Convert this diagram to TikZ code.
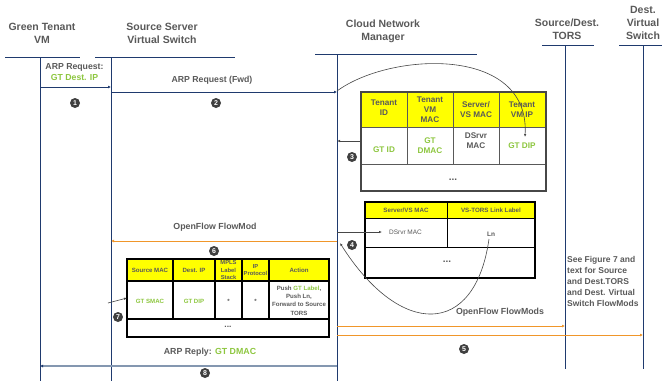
\documentclass[tikz,border=0pt]{standalone}
\usepackage{fontspec}
\setmainfont{Liberation Sans}
\usetikzlibrary{arrows.meta}
\definecolor{txt}{HTML}{595959}
\definecolor{gt}{HTML}{8DC63F}
\definecolor{life}{HTML}{1F3A6E}
\definecolor{flow}{HTML}{F0962A}
\definecolor{reply}{HTML}{8497B0}
\definecolor{numgray}{HTML}{404040}
\definecolor{hdr}{HTML}{FFFF00}
\begin{document}
\begin{tikzpicture}[x=1pt,y=-1pt,
  head/.style={align=center,text=txt,inner sep=0pt,font=\bfseries\fontsize{10.5}{13}\selectfont},
  lbl/.style={align=center,text=txt,inner sep=0pt,font=\bfseries\fontsize{8.7}{10}\selectfont},
  lifeline/.style={draw=life,line width=0.9pt},
  msg/.style={draw=life,line width=0.9pt,-{Latex[length=3pt,width=3pt]}},
  ofmsg/.style={draw=flow,line width=0.9pt,-{Latex[length=3pt,width=3pt]}},
  replymsg/.style={draw=reply,line width=1.4pt,-{Latex[length=3pt,width=3pt,color=life]}},
  thin/.style={draw=txt!80!black,line width=0.6pt,-{Latex[length=3pt,width=2.5pt]}},
  num/.style={circle,fill=numgray,text=white,inner sep=0pt,minimum size=10pt,
    font=\bfseries\fontsize{7}{7}\selectfont},
  cellA/.style={align=center,text=txt,inner sep=0pt,font=\bfseries\fontsize{8.2}{10}\selectfont},
  cellB/.style={align=center,text=txt,inner sep=0pt,font=\bfseries\fontsize{6.2}{8}\selectfont},
  cellC/.style={align=center,text=txt,inner sep=0pt,font=\bfseries\fontsize{6.1}{8.3}\selectfont},
  gtxt/.style={text=gt}]
\useasboundingbox (0,0) rectangle (662,381);
\clip (0,0) rectangle (662,381);

% ---------- participants ----------
\node[head] (vm)  at (42,33.5)  {Green Tenant\\VM};
\node[head] (vs)  at (162,33.5) {Source Server\\Virtual Switch};
\node[head] (cnm) at (383,31.5) {Cloud Network\\Manager};
\node[head] (tors) at (567,29)  {Source/Dest.\\TORS};
\node[head] (dvs) at (643,23)   {Dest.\\Virtual\\Switch};

% header rules
\draw[lifeline] (5,57) -- (80,57);
\draw[lifeline] (95,57) -- (235,57);
\draw[lifeline] (315,54) -- (477,54);
\draw[lifeline] (542,45) -- (594,45);
\draw[lifeline] (619,45) -- (662,45);

% lifelines
\coordinate (vmT) at (40,57);   \coordinate (vmB) at (40,381);
\coordinate (vsT) at (111,57);  \coordinate (vsB) at (111,381);
\coordinate (cnmT) at (337,54); \coordinate (cnmB) at (337,381);
\coordinate (torT) at (565,45); \coordinate (torB) at (565,369);
\coordinate (dvsT) at (643,45); \coordinate (dvsB) at (643,369);
\draw[lifeline] (vmT) -- (vmB);
\draw[lifeline] (vsT) -- (vsB);
\draw[lifeline] (cnmT) -- (cnmB);
\draw[lifeline] (torT) -- (torB);
\draw[lifeline] (dvsT) -- (dvsB);

% ---------- step 1 and 2: ARP request ----------
\coordinate (a1s) at (40,87);  \coordinate (a1e) at (111,87);
\draw[msg] (a1s) -- (a1e);
\node[lbl] (arpq) at (74.5,67) {ARP Request:};
\node[lbl,gtxt] (arpip) at (74.5,77.5) {GT Dest. IP};
\node[num] (n1) at (75,103) {1};

\coordinate (a2s) at (111,92); \coordinate (a2e) at (337,92);
\draw[msg] (a2s) -- (a2e);
\node[lbl] (arpf) at (212,80) {ARP Request (Fwd)};
\node[num] (n2) at (216,103) {2};

% ---------- tenant table ----------
\fill[hdr] (361,92) rectangle (546,127);
\draw[txt,line width=0.8pt] (361,127) -- (546,127) (361,164) -- (546,164)
  (407,92) -- (407,164) (453,92) -- (453,164) (499,92) -- (499,164);
\draw[txt!80!black,line width=2pt] (361,92) rectangle (546,191);
\node[cellA] (h1) at (384,108) {Tenant\\ID};
\node[cellA] (h2) at (430,109.5) {Tenant\\VM\\MAC};
\node[cellA] (h3) at (476,110) {Server/\\VS MAC};
\node[cellA] (h4) at (522,110) {Tenant\\VM IP};
\node[cellA,gtxt] (d1) at (384,150) {GT ID};
\node[cellA,gtxt] (d2) at (430,146) {GT\\DMAC};
\node[cellA] (d3) at (476,140.5) {DSrvr\\MAC};
\node[cellA,gtxt] (d4) at (522,146) {GT DIP};
\node[cellA,font=\bfseries\fontsize{10}{10}\selectfont] (e1) at (453,180) {...};

% lookup of the destination IP
\coordinate (c0) at (337,91);
\coordinate (c1) at (525,137);
\draw[thin] (c0) .. controls (390,52) and (530,45) .. (c1);

% step 3
\coordinate (t1l) at (361,141); \coordinate (t1c) at (337,141);
\draw[thin] (t1l) -- (t1c);
\node[num] (n3) at (352,157) {3};

% ---------- server / link label table ----------
\fill[hdr] (365,202) rectangle (535,218);
\draw[black,line width=1pt] (365,218) -- (535,218) (365,247) -- (535,247)
  (447,202) -- (447,247);
\draw[black,line width=2pt] (365,202) rectangle (535,278);
\node[cellB] (s1) at (406,210) {Server/VS MAC};
\node[cellB] (s2) at (491,210) {VS-TORS Link Label};
\node[cellB,font=\fontsize{6.5}{8}\selectfont] (s3) at (405.5,232) {DSrvr MAC};
\node[cellB,font=\bfseries\fontsize{6.5}{8}\selectfont] (s4) at (491,234) {Ln};
\node[cellA,font=\bfseries\fontsize{10}{10}\selectfont] (e2) at (447,262) {...};

% step 4
\coordinate (t2c) at (337,232); \coordinate (t2l) at (382,232);
\draw[thin] (t2c) -- (t2l);
\coordinate (ln0) at (489,239); \coordinate (ln1) at (340,243);
\draw[thin] (ln0) .. controls (475,338) and (400,338) .. (ln1);
\node[num] (n4) at (352,245) {4};

% ---------- step 6: flow mod to source switch ----------
\coordinate (f6s) at (337,241); \coordinate (f6e) at (111,241);
\draw[ofmsg] (f6s) -- (f6e);
\node[lbl,font=\bfseries\fontsize{8.8}{10}\selectfont] (ofm) at (215,227) {OpenFlow FlowMod};
\node[num] (n6) at (214,251) {6};

% ---------- flow table ----------
\fill[hdr] (127,259) rectangle (329,281);
\draw[black,line width=1.3pt] (127,281) -- (329,281) (127,319) -- (329,319)
  (173,259) -- (173,319) (215,259) -- (215,319) (242,259) -- (242,319) (269,259) -- (269,319);
\draw[black,line width=2.4pt] (127,259) rectangle (329,337);
\node[cellC] (g1) at (150,270) {Source MAC};
\node[cellC] (g2) at (194,270) {Dest. IP};
\node[cellC,font=\bfseries\fontsize{5.8}{7.2}\selectfont] (g3) at (228.5,270) {MPLS\\Label\\Stack};
\node[cellC,font=\bfseries\fontsize{5.8}{7.2}\selectfont] (g4) at (255.5,270) {IP\\Protocol};
\node[cellC] (g5) at (299,270) {Action};
\node[cellC,gtxt] (r1) at (150,301) {GT SMAC};
\node[cellC,gtxt] (r2) at (194,301) {GT DIP};
\node[cellC] (r3) at (228.5,301) {*};
\node[cellC] (r4) at (255.5,301) {*};
\node[cellC] (r5) at (299,300.5) {Push \textcolor{gt}{GT Label},\\Push Ln,\\Forward to Source\\TORS};
\node[cellA,font=\bfseries\fontsize{8.5}{8}\selectfont] (e3) at (228,327) {...};

% step 7
\coordinate (t3s) at (108,303); \coordinate (t3e) at (127,298);
\draw[thin] (t3s) -- (t3e);
\node[num] (n7) at (118,317) {7};

% ---------- step 5: flow mods to TORS and destination switch ----------
\coordinate (f5a) at (337,326); \coordinate (f5b) at (565,326);
\coordinate (f5c) at (337,335); \coordinate (f5d) at (643,335);
\draw[ofmsg] (f5a) -- (f5b);
\draw[ofmsg] (f5c) -- (f5d);
\node[lbl,font=\bfseries\fontsize{8.8}{10}\selectfont] (ofms) at (500,312) {OpenFlow FlowMods};
\node[num] (n5) at (464,349) {5};

\node[align=left,text=txt,inner sep=0pt,anchor=north west,
  font=\bfseries\fontsize{8.5}{11}\selectfont] (note) at (567,256)
  {See Figure 7 and\\text for Source\\and Dest.TORS\\and Dest. Virtual\\Switch FlowMods};

% ---------- step 8: ARP reply ----------
\coordinate (r8s) at (337,366); \coordinate (r8e) at (40,366);
\draw[replymsg] (r8s) -- (r8e);
\node[lbl,font=\bfseries\fontsize{8.8}{10}\selectfont] (arpr) at (210,352) {ARP Reply: \textcolor{gt}{GT DMAC}};
\node[num] (n8) at (205,373) {8};
\end{tikzpicture}
\end{document}
